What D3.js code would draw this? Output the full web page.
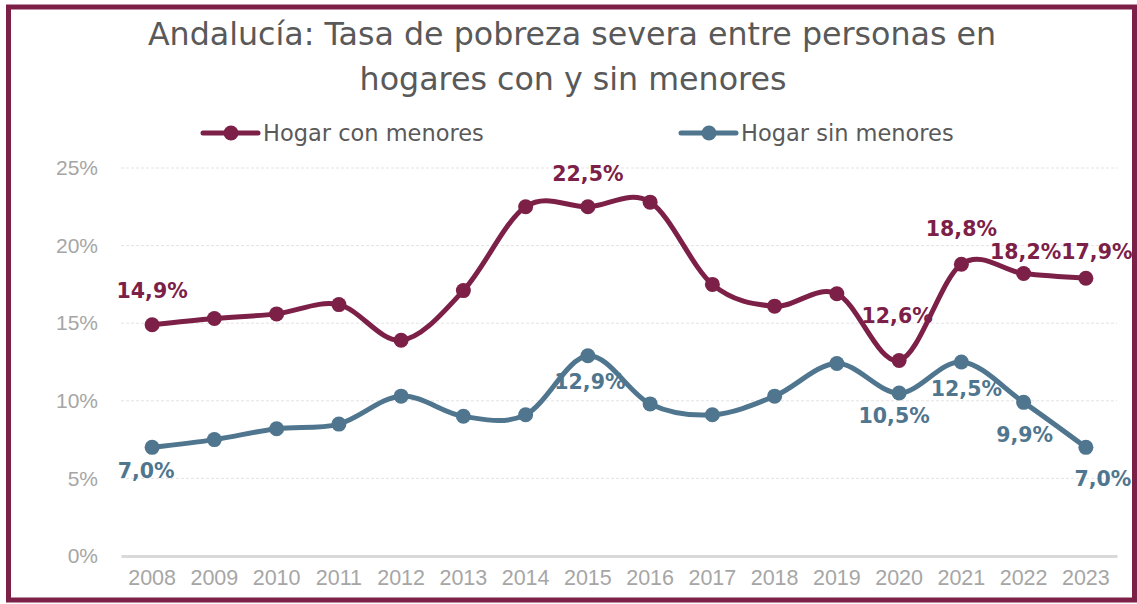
<!DOCTYPE html>
<html>
<head>
<meta charset="utf-8">
<script src="https://cdn.jsdelivr.net/npm/d3@7"></script>
<style>
  html, body { margin: 0; padding: 0; background: #fff; }
  svg { display: block; }
</style>
</head>
<body>
<script>
// datos
const years = ["2008", "2009", "2010", "2011", "2012", "2013", "2014", "2015",
               "2016", "2017", "2018", "2019", "2020", "2021", "2022", "2023"];
const conMenores = [14.9, 15.3, 15.6, 16.2, 13.9, 17.1, 22.5, 22.5,
                    22.8, 17.5, 16.1, 16.9, 12.6, 18.8, 18.2, 17.9];
const sinMenores = [7.0, 7.5, 8.2, 8.5, 10.3, 9.0, 9.1, 12.9,
                    9.8, 9.1, 10.3, 12.4, 10.5, 12.5, 9.9, 7.0];
const yTicks = [0, 5, 10, 15, 20, 25];
const seriesNames = ["Hogar con menores", "Hogar sin menores"];

// qué puntos llevan etiqueta y dónde se colocan
const labelsCon = [
  { i: 0, dx: 0, dy: -27 },
  { i: 7, dx: 0, dy: -26 },
  { i: 12, dx: -2, dy: -37 },
  { i: 13, dx: 0, dy: -28 },
  { i: 14, dx: 2, dy: -15 },
  { i: 15, dx: 11, dy: -19 }
];
const labelsSin = [
  { i: 0, dx: -6, dy: 31 },
  { i: 7, dx: 2, dy: 33 },
  { i: 12, dx: -5, dy: 30 },
  { i: 13, dx: 5, dy: 34 },
  { i: 14, dx: 1, dy: 40 },
  { i: 15, dx: 17, dy: 39 }
];

const W = 1137, H = 604;
const colorCon = "#7c2048";
const colorSin = "#4f768e";

const svg = d3.select("body").append("svg")
  .attr("width", W)
  .attr("height", H);

svg.append("rect")
  .attr("width", W).attr("height", H)
  .attr("fill", "#fff");

// marco
svg.append("rect")
  .attr("x", 8.5).attr("y", 7)
  .attr("width", 1126).attr("height", 593)
  .attr("fill", "none")
  .attr("stroke", colorCon)
  .attr("stroke-width", 5);

const x = d3.scaleBand().domain(years).range([121, 1117]);
const y = d3.scaleLinear().domain([0, 25]).range([556, 168]);
const cx = d => x(d) + x.bandwidth() / 2;

// título
const title = svg.append("text")
  .attr("text-anchor", "middle")
  .attr("font-family", "'DejaVu Sans', sans-serif")
  .attr("font-size", 31.7)
  .attr("fill", "#595959");
title.append("tspan").attr("x", 572).attr("y", 45)
  .text("Andalucía: Tasa de pobreza severa entre personas en");
title.append("tspan").attr("x", 573).attr("y", 90)
  .text("hogares con y sin menores");

// rejilla
svg.append("g")
  .selectAll("line")
  .data(yTicks.filter(t => t > 0))
  .join("line")
  .attr("x1", 121).attr("x2", 1117)
  .attr("y1", d => y(d)).attr("y2", d => y(d))
  .attr("stroke", "#e3e3e3")
  .attr("stroke-width", 1)
  .attr("stroke-dasharray", "3,2");

// eje y
const yAxis = svg.append("g")
  .attr("transform", "translate(121,0)")
  .call(d3.axisLeft(y).tickValues(yTicks).tickSize(0).tickPadding(23)
    .tickFormat(d => d + "%"));
yAxis.select(".domain").remove();
yAxis.selectAll("text")
  .attr("font-family", "'Liberation Sans', Arial, sans-serif")
  .attr("font-size", 21)
  .attr("fill", "#a6a6a6");

// eje x
const xAxis = svg.append("g")
  .attr("transform", "translate(0,556)")
  .call(d3.axisBottom(x).tickSize(0).tickPadding(14));
xAxis.select(".domain")
  .attr("stroke", "#d9d9d9")
  .attr("stroke-width", 3);
xAxis.selectAll("text")
  .attr("font-family", "'Liberation Sans', Arial, sans-serif")
  .attr("font-size", 21.5)
  .attr("fill", "#a6a6a6");

// líneas suavizadas
const line = d3.line()
  .x((d, i) => cx(years[i]))
  .y(d => y(d))
  .curve(d3.curveCardinal.tension(0));

function drawSeries(values, color, labels) {
  const g = svg.append("g");
  g.append("path")
    .datum(values)
    .attr("d", line)
    .attr("fill", "none")
    .attr("stroke", color)
    .attr("stroke-width", 5)
    .attr("stroke-linejoin", "round");
  g.selectAll("circle")
    .data(values)
    .join("circle")
    .attr("cx", (d, i) => cx(years[i]))
    .attr("cy", d => y(d))
    .attr("r", 7.5)
    .attr("fill", color);
  g.selectAll("text")
    .data(labels)
    .join("text")
    .attr("x", d => cx(years[d.i]) + d.dx)
    .attr("y", d => y(values[d.i]) + d.dy)
    .attr("text-anchor", "middle")
    .attr("font-family", "'DejaVu Sans', sans-serif")
    .attr("font-weight", "bold")
    .attr("font-size", 20.5)
    .attr("fill", color)
    .text(d => values[d.i].toFixed(1).replace(".", ",") + "%");
}

drawSeries(sinMenores, colorSin, labelsSin);
drawSeries(conMenores, colorCon, labelsCon);

// leyenda
const legend = [
  { name: seriesNames[0], color: colorCon, x0: 203 },
  { name: seriesNames[1], color: colorSin, x0: 681 }
];
const lg = svg.append("g")
  .selectAll("g")
  .data(legend)
  .join("g")
  .attr("transform", d => `translate(${d.x0},133)`);
lg.append("line")
  .attr("x1", 0).attr("x2", 55)
  .attr("stroke", d => d.color)
  .attr("stroke-width", 5)
  .attr("stroke-linecap", "round");
lg.append("circle")
  .attr("cx", 28).attr("r", 7.5)
  .attr("fill", d => d.color);
lg.append("text")
  .attr("x", 60).attr("y", 8)
  .attr("font-family", "'DejaVu Sans', sans-serif")
  .attr("font-size", 22.5)
  .attr("fill", "#595959")
  .text(d => d.name);
</script>
</body>
</html>
